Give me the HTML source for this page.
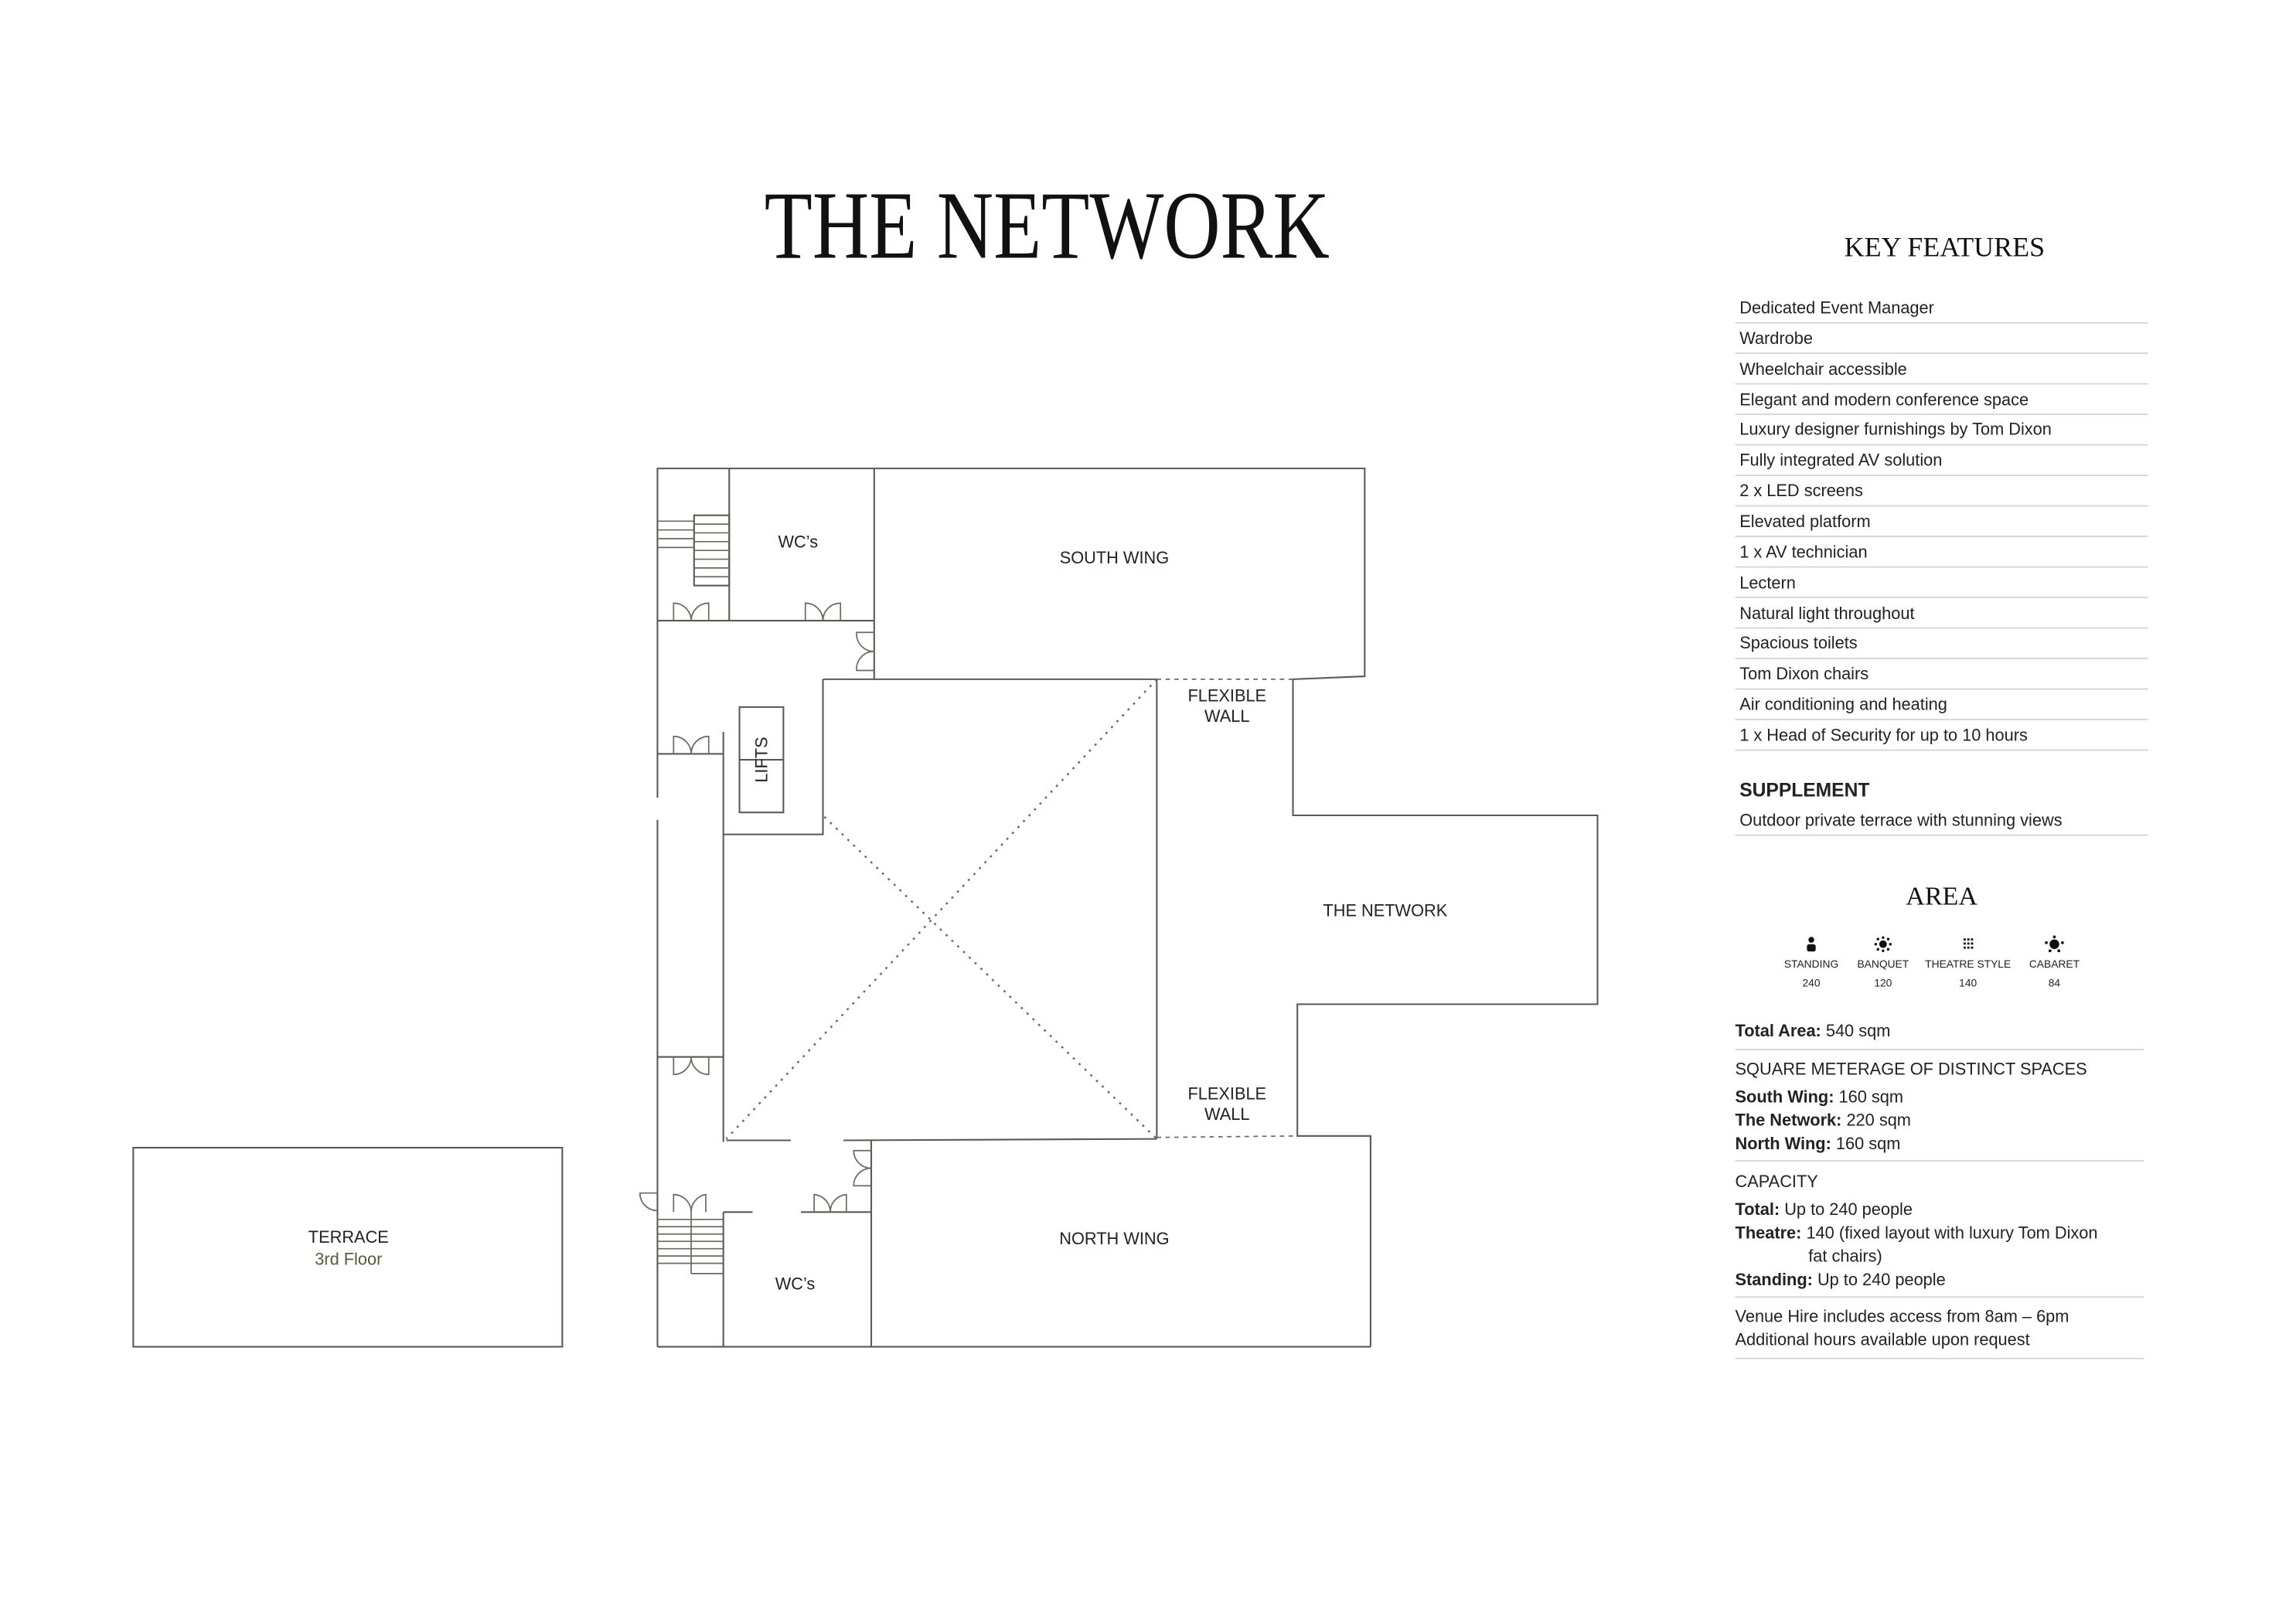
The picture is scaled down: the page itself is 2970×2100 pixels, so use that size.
<!DOCTYPE html>
<html><head><meta charset="utf-8"><style>
html,body{margin:0;padding:0;background:#fff}
svg{display:block}
.w{stroke:#5a5a52;stroke-width:1.1;fill:none}
.d{stroke:#6a6a62;stroke-width:0.9;fill:none}
.s{font-family:"Liberation Sans",sans-serif;fill:#222}
.f{font-family:"Liberation Serif",serif;fill:#111}
.ln{stroke:#d6d6d6;stroke-width:1}
</style></head><body>
<svg width="2970" height="2100" viewBox="0 0 1568 1108.7" xmlns="http://www.w3.org/2000/svg">
<rect width="1600" height="1120" fill="#fff"/>
<text class="f" x="715" y="176" text-anchor="middle" font-size="66" textLength="386" lengthAdjust="spacingAndGlyphs">THE NETWORK</text>

<g class="w">
<polyline points="449,424 449,320 597,320"/>
<line x1="498" y1="320" x2="498" y2="424"/>
<line x1="449" y1="424" x2="597" y2="424"/>
<rect x="474" y="352" width="24" height="48"/>
<g class="d"><line x1="449" y1="356" x2="474" y2="356"/><line x1="449" y1="362" x2="474" y2="362"/><line x1="449" y1="368" x2="474" y2="368"/><line x1="449" y1="374" x2="474" y2="374"/>
<line x1="474" y1="358" x2="498" y2="358"/><line x1="474" y1="364" x2="498" y2="364"/><line x1="474" y1="370" x2="498" y2="370"/><line x1="474" y1="376" x2="498" y2="376"/><line x1="474" y1="382" x2="498" y2="382"/><line x1="474" y1="388" x2="498" y2="388"/><line x1="474" y1="394" x2="498" y2="394"/></g>
<polyline points="597,320 932,320 932,462 883,464"/>
<line x1="597" y1="320" x2="597" y2="464"/>
<line x1="562" y1="464" x2="790" y2="464"/>
<polyline points="562,464 562,570 494,570 494,780"/>
<rect x="505" y="483" width="30" height="72"/>
<line x1="505" y1="519" x2="535" y2="519"/>
<line x1="449" y1="424" x2="449" y2="545"/>
<line x1="449" y1="560" x2="449" y2="920"/>
<line x1="449" y1="515" x2="494" y2="515"/>
<line x1="494" y1="500" x2="494" y2="570"/>
<line x1="449" y1="722" x2="494" y2="722"/>
<line x1="790" y1="464" x2="790" y2="778"/>
<line x1="496" y1="779" x2="540" y2="779"/>
<line x1="576" y1="779" x2="790" y2="778"/>
<polyline points="883,464 883,557 1091,557 1091,686 886,686 886,776 936,776 936,920"/>
<line x1="595" y1="779" x2="595" y2="920"/>
<line x1="449" y1="920" x2="936" y2="920"/>
<line x1="494" y1="828" x2="494" y2="920"/>
<line x1="494" y1="828" x2="514" y2="828"/>
<line x1="547" y1="828" x2="595" y2="828"/>
<rect x="91" y="784" width="293" height="136"/>
</g>
<g class="d">
<line x1="472" y1="828" x2="472" y2="870"/>
<line x1="449" y1="833" x2="494" y2="833"/><line x1="449" y1="838" x2="494" y2="838"/><line x1="449" y1="843" x2="494" y2="843"/><line x1="449" y1="848" x2="494" y2="848"/><line x1="449" y1="853" x2="494" y2="853"/><line x1="449" y1="858" x2="494" y2="858"/><line x1="449" y1="863" x2="494" y2="863"/>
<line x1="472" y1="870" x2="494" y2="870"/>
<path d="M460,424V412A12,12 0 0 1 472,424M484,424V412A12,12 0 0 0 472,424"/>
<path d="M550,424V412A12,12 0 0 1 562,424M574,424V412A12,12 0 0 0 562,424"/>
<path d="M460,515V503A12,12 0 0 1 472,515M484,515V503A12,12 0 0 0 472,515"/>
<path d="M460,722V734A12,12 0 0 0 472,722M484,722V734A12,12 0 0 1 472,722"/>
<path d="M460,828V816A12,12 0 0 1 472,828M482,828V816A12,12 0 0 0 472,828"/>
<path d="M556,828V816A12,12 0 0 1 567,828M578,828V816A12,12 0 0 0 567,828"/>
<path d="M597,432H585A12,12 0 0 0 597,445M597,458H585A12,12 0 0 1 597,445"/>
<path d="M595,786H583A12,12 0 0 0 595,798M595,810H583A12,12 0 0 1 595,798"/>
<path d="M449,815H437A12,12 0 0 0 449,827"/>
<line x1="790" y1="464" x2="883" y2="464" stroke-dasharray="3,3"/>
<line x1="790" y1="777" x2="886" y2="776" stroke-dasharray="3,3"/>
<line x1="790" y1="464" x2="496" y2="778" stroke-dasharray="1.5,4" stroke-width="1.3"/>
<line x1="563" y1="558" x2="790" y2="778" stroke-dasharray="1.5,4" stroke-width="1.3"/>
</g>
<g class="s" font-size="11.5" text-anchor="middle">
<text x="545" y="374">WC’s</text>
<text x="761" y="385">SOUTH WING</text>
<text x="838" y="479">FLEXIBLE</text><text x="838" y="493">WALL</text>
<text x="946" y="626">THE NETWORK</text>
<text x="838" y="751">FLEXIBLE</text><text x="838" y="765">WALL</text>
<text x="761" y="850">NORTH WING</text>
<text x="543" y="881">WC’s</text>
<text x="238" y="849">TERRACE</text>
<text x="238" y="864" fill="#5a5a3a">3rd Floor</text>
<text transform="translate(524,519) rotate(-90)">LIFTS</text>
</g>

<text class="f" x="1328" y="175" text-anchor="middle" font-size="19">KEY FEATURES</text>
<g class="s" font-size="11.5">
<text x="1188" y="214">Dedicated Event Manager</text>
<text x="1188" y="235">Wardrobe</text>
<text x="1188" y="256">Wheelchair accessible</text>
<text x="1188" y="277">Elegant and modern conference space</text>
<text x="1188" y="297">Luxury designer furnishings by Tom Dixon</text>
<text x="1188" y="318">Fully integrated AV solution</text>
<text x="1188" y="339">2 x LED screens</text>
<text x="1188" y="360">Elevated platform</text>
<text x="1188" y="381">1 x AV technician</text>
<text x="1188" y="402">Lectern</text>
<text x="1188" y="423">Natural light throughout</text>
<text x="1188" y="443">Spacious toilets</text>
<text x="1188" y="464">Tom Dixon chairs</text>
<text x="1188" y="485">Air conditioning and heating</text>
<text x="1188" y="506">1 x Head of Security for up to 10 hours</text>
<text x="1188" y="544" font-weight="bold" font-size="13">SUPPLEMENT</text>
<text x="1188" y="564">Outdoor private terrace with stunning views</text>
</g>
<g class="ln">
<line x1="1185" y1="220.5" x2="1467" y2="220.5"/><line x1="1185" y1="241.3" x2="1467" y2="241.3"/><line x1="1185" y1="262.2" x2="1467" y2="262.2"/><line x1="1185" y1="283" x2="1467" y2="283"/><line x1="1185" y1="303.9" x2="1467" y2="303.9"/><line x1="1185" y1="324.7" x2="1467" y2="324.7"/><line x1="1185" y1="345.6" x2="1467" y2="345.6"/><line x1="1185" y1="366.4" x2="1467" y2="366.4"/><line x1="1185" y1="387.3" x2="1467" y2="387.3"/><line x1="1185" y1="408.1" x2="1467" y2="408.1"/><line x1="1185" y1="429" x2="1467" y2="429"/><line x1="1185" y1="449.8" x2="1467" y2="449.8"/><line x1="1185" y1="470.7" x2="1467" y2="470.7"/><line x1="1185" y1="491.5" x2="1467" y2="491.5"/><line x1="1185" y1="512.4" x2="1467" y2="512.4"/>
<line x1="1185" y1="570.5" x2="1467" y2="570.5"/>
<line x1="1185" y1="717" x2="1464" y2="717"/><line x1="1185" y1="793" x2="1464" y2="793"/><line x1="1185" y1="886" x2="1464" y2="886"/><line x1="1185" y1="928" x2="1464" y2="928"/>
</g>
<text class="f" x="1326" y="618" text-anchor="middle" font-size="18">AREA</text>
<g fill="#111">
<circle cx="1237" cy="642" r="2"/><rect x="1234" y="645" width="6" height="5" rx="1.5"/>
<circle cx="1286" cy="645" r="2.6"/>
<g><circle cx="1281" cy="645" r="0.9"/><circle cx="1291" cy="645" r="0.9"/><circle cx="1286" cy="640.5" r="0.9"/><circle cx="1286" cy="649.5" r="0.9"/><circle cx="1282.5" cy="641.5" r="0.9"/><circle cx="1289.5" cy="641.5" r="0.9"/><circle cx="1282.5" cy="648.5" r="0.9"/><circle cx="1289.5" cy="648.5" r="0.9"/></g>
<g><rect x="1341" y="641" width="1.5" height="1.5"/><rect x="1343.5" y="641" width="1.5" height="1.5"/><rect x="1346" y="641" width="1.5" height="1.5"/><rect x="1341" y="643.8" width="1.5" height="1.5"/><rect x="1343.5" y="643.8" width="1.5" height="1.5"/><rect x="1346" y="643.8" width="1.5" height="1.5"/><rect x="1341" y="646.6" width="1.5" height="1.5"/><rect x="1343.5" y="646.6" width="1.5" height="1.5"/><rect x="1346" y="646.6" width="1.5" height="1.5"/></g>
<circle cx="1403" cy="645" r="3.3"/><circle cx="1397.5" cy="644" r="1"/><circle cx="1408.5" cy="644" r="1"/><circle cx="1400" cy="649.5" r="1"/><circle cx="1406" cy="649.5" r="1"/><circle cx="1403" cy="640" r="1"/>
</g>
<g class="s" font-size="7.3" text-anchor="middle" fill="#333">
<text x="1237" y="661">STANDING</text><text x="1286" y="661">BANQUET</text><text x="1344" y="661">THEATRE STYLE</text><text x="1403" y="661">CABARET</text>
<text x="1237" y="674">240</text><text x="1286" y="674">120</text><text x="1344" y="674">140</text><text x="1403" y="674">84</text>
</g>
<g class="s" font-size="11.5">
<text x="1185" y="708"><tspan font-weight="bold">Total Area:</tspan> 540 sqm</text>
<text x="1185" y="734">SQUARE METERAGE OF DISTINCT SPACES</text>
<text x="1185" y="753"><tspan font-weight="bold">South Wing:</tspan> 160 sqm</text>
<text x="1185" y="769"><tspan font-weight="bold">The Network:</tspan> 220 sqm</text>
<text x="1185" y="785"><tspan font-weight="bold">North Wing:</tspan> 160 sqm</text>
<text x="1185" y="811">CAPACITY</text>
<text x="1185" y="830"><tspan font-weight="bold">Total:</tspan> Up to 240 people</text>
<text x="1185" y="846"><tspan font-weight="bold">Theatre:</tspan> 140 (fixed layout with luxury Tom Dixon</text>
<text x="1235" y="862">fat chairs)</text>
<text x="1185" y="878"><tspan font-weight="bold">Standing:</tspan> Up to 240 people</text>
<text x="1185" y="903">Venue Hire includes access from 8am – 6pm</text>
<text x="1185" y="919">Additional hours available upon request</text>
</g>
</svg>
</body></html>
